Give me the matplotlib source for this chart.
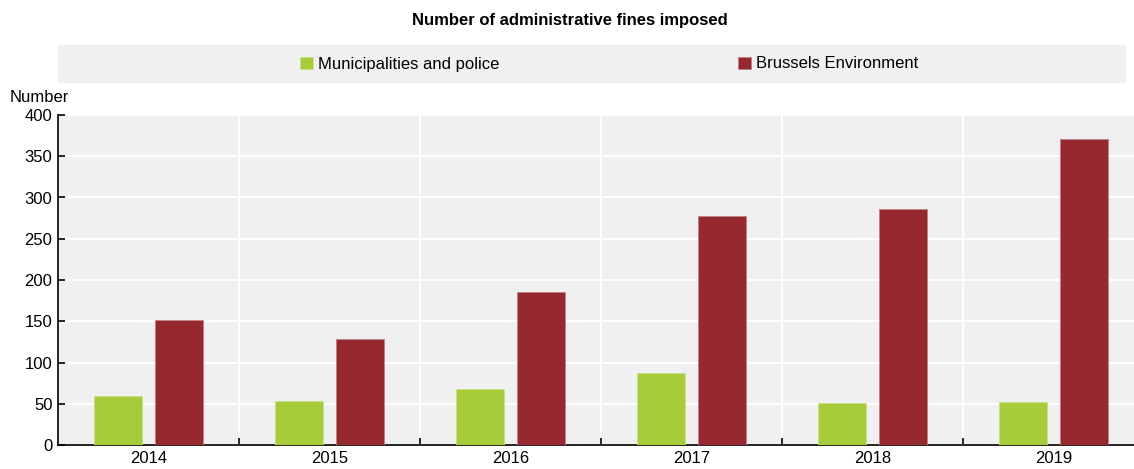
import matplotlib.pyplot as plt
import matplotlib.patches as mpatches
from matplotlib import font_manager
import numpy as np

# pick a narrow font if we have one
names = {f.name for f in font_manager.fontManager.ttflist}
if "Liberation Sans Narrow" in names:
    plt.rcParams["font.family"] = ["Liberation Sans Narrow", "DejaVu Sans"]
else:
    plt.rcParams["font.family"] = ["Liberation Sans", "DejaVu Sans"]

years = ["2014", "2015", "2016", "2017", "2018", "2019"]
municipalities = [59, 53, 68, 87, 51, 52]
brussels_env = [151, 128, 185, 277, 286, 371]

green = "#A7CC3A"
red = "#962830"
bg = "#F0F0F0"

fig = plt.figure(figsize=(11.34, 4.69), dpi=100)
# plot area runs a little past the right edge of the image, like the original
ax = fig.add_axes([58 / 1134, 1 - 445 / 469, 1086 / 1134, (445 - 115) / 469])
ax.set_facecolor(bg)

x = np.arange(len(years))
w = 0.265
gap = 0.07
ax.bar(x - (w + gap) / 2, municipalities, w, color=green, edgecolor="#C8E08A", linewidth=0.6,
       label="Municipalities and police", zorder=3)
ax.bar(x + (w + gap) / 2, brussels_env, w, color=red, edgecolor="#C08088", linewidth=0.6,
       label="Brussels Environment", zorder=3)

ax.set_xlim(-0.5, len(years) - 0.5)
ax.set_ylim(0, 400)
ax.set_yticks(range(0, 401, 50))
ax.set_xticks(x)
ax.set_xticklabels(years)
ax.set_xticks(np.arange(0.5, len(years) - 0.5, 1), minor=True)

ax.grid(axis="y", color="white", linewidth=1.5, zorder=0)
ax.grid(axis="x", which="minor", color="white", linewidth=1.5, zorder=0)
ax.tick_params(axis="x", which="major", length=0, labelsize=12, pad=4)
ax.tick_params(axis="x", which="minor", direction="in", length=5, width=1.2, color="black")
ax.tick_params(axis="y", direction="in", length=5, width=1.2, labelsize=12, pad=4)

for s in ["top", "right"]:
    ax.spines[s].set_visible(False)
ax.spines["left"].set_linewidth(1.2)
ax.spines["bottom"].set_linewidth(1.2)

fig.text(10 / 1134, 1 - 97 / 469, "Number", fontsize=12, va="center", ha="left")
fig.text(570 / 1134, 1 - 20 / 469, "Number of administrative fines imposed",
         fontsize=12, fontweight="bold", ha="center", va="center")

# legend band
fig.patches.append(mpatches.Rectangle((58 / 1134, 1 - 82 / 469), (1125 - 58) / 1134, 37 / 469,
                                      transform=fig.transFigure, color=bg, zorder=0))
handles, labels = ax.get_legend_handles_labels()
fig.legend(handles, labels, loc="center", bbox_to_anchor=(609 / 1134, 1 - 64 / 469), ncol=2,
           frameon=False, fontsize=12, handlelength=0.75, handleheight=0.75, handletextpad=0.3,
           columnspacing=14.35)

fig.savefig("out.png", dpi=100)
